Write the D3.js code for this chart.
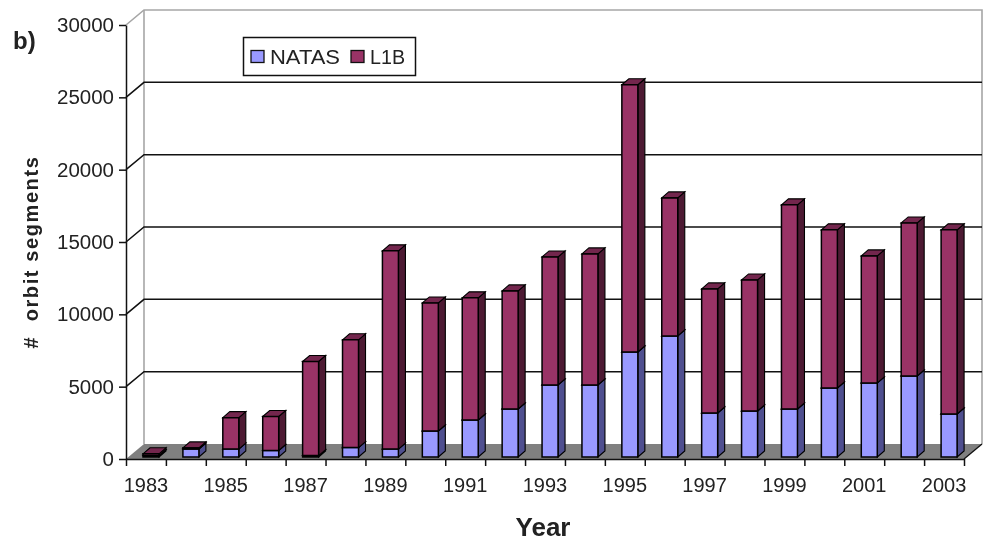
<!DOCTYPE html>
<html><head><meta charset="utf-8">
<script src="https://cdnjs.cloudflare.com/ajax/libs/d3/7.8.5/d3.min.js"></script>
<style>html,body{margin:0;background:#fff}svg{display:block;filter:blur(0.35px)}text{font-family:"Liberation Sans",Arial,sans-serif;fill:#222}</style>
</head><body><svg id="c" width="987" height="547"></svg>
<script>
const years = d3.range(1983, 2004);
const natas = [100,550,550,450,100,650,550,1800,2560,3320,4980,4980,7260,8370,3040,3180,3320,4770,5120,5600,2970];
const l1b = [120,80,2170,2350,6500,7450,13700,8850,8440,8160,8850,9060,18470,9540,8580,9060,14110,10930,8780,10580,12730];
const yTicks = [0,5000,10000,15000,20000,25000,30000];
const xLabels = [1983,1985,1987,1989,1991,1993,1995,1997,1999,2001,2003];
const seriesNames = ["NATAS","L1B"];
const colors = {NATAS:{front:"#9999ff",side:"#4f4f8f",top:"#7a7acc"},L1B:{front:"#993366",side:"#4d1a33",top:"#73264d"}};

const svg = d3.select("#c");
const x0=126,x1=964,y0=459,y1=25,dx=18,dy=-15;
const y = d3.scaleLinear().domain([0,30000]).range([y0,y1]);
const x = d3.scaleBand().domain(years).range([x0,x1]).paddingInner(0).paddingOuter(0);
const poly=(pts,fill,stroke,sw)=>svg.append("polygon").attr("points",pts.map(p=>p.join(",")).join(" ")).attr("fill",fill).attr("stroke",stroke||"none").attr("stroke-width",sw||0);

// walls and floor
svg.append("path").attr("d",`M${x0},${y(30000)}L${x0+dx},${y(30000)+dy}H${x1+dx}V${y0+dy}`).attr("fill","none").attr("stroke","#a6a6a6").attr("stroke-width",1.6);
svg.append("line").attr("x1",x0+dx).attr("x2",x0+dx).attr("y1",y(30000)+dy).attr("y2",y0+dy).attr("stroke","#a6a6a6").attr("stroke-width",1.6);
poly([[x0,y0],[x0+dx,y0+dy],[x1+dx,y0+dy],[x1,y0]],"#808080");
yTicks.filter(t=>t>0&&t<30000).forEach(t=>{
  svg.append("path").attr("d",`M${x0},${y(t)}L${x0+dx},${y(t)+dy}H${x1+dx}`).attr("fill","none").attr("stroke","#111").attr("stroke-width",1.5);
});
svg.append("path").attr("d",`M${x1},${y0}L${x1+dx},${y0+dy}`).attr("stroke","#111").attr("stroke-width",1.3);

// bars
const bx=17,bw=16,bd=7,bdy=-6,by=-2;
years.forEach((yr,i)=>{
  let base=0;
  const left=x(yr)+bx;
  [natas[i],l1b[i]].forEach((v,s)=>{
    const c=colors[seriesNames[s]];
    const yb=y(base)+by, yt=y(base+v)+by;
    poly([[left+bw,yb],[left+bw+bd,yb+bdy],[left+bw+bd,yt+bdy],[left+bw,yt]],c.side,"#000",1.1);
    poly([[left,yt],[left+bd,yt+bdy],[left+bw+bd,yt+bdy],[left+bw,yt]],c.top,"#000",1.1);
    poly([[left,yb],[left+bw,yb],[left+bw,yt],[left,yt]],c.front,"#000",1.5);
    base+=v;
  });
});

// axes
const gy=svg.append("g").attr("transform",`translate(${x0},0)`).call(d3.axisLeft(y).tickValues(yTicks).tickSize(7).tickPadding(5).tickSizeOuter(0).tickFormat(d3.format("d")));
const xAxis=d3.axisBottom(d3.scalePoint().domain(d3.range(1983,2005)).range([x0,x1])).tickSize(7).tickSizeOuter(0).tickFormat("");
svg.append("g").attr("transform",`translate(0,${y0})`).call(xAxis);
svg.selectAll(".domain,.tick line").attr("stroke","#111").attr("stroke-width",1.5);
gy.selectAll("text").attr("font-size",20.5).attr("fill","#222");
xLabels.forEach(l=>{
  svg.append("text").attr("x",x(l)+x.bandwidth()/2).attr("y",492).attr("text-anchor","middle").attr("font-size",20).text(l);
});

// titles
svg.append("text").attr("x",543).attr("y",536).attr("text-anchor","middle").attr("font-size",26).attr("font-weight","bold").text("Year");
svg.append("text").attr("transform","translate(38,252) rotate(-90)").attr("text-anchor","middle").attr("font-size",20).attr("font-weight","bold").attr("letter-spacing",1.6).attr("xml:space","preserve").text("#  orbit segments");
svg.append("text").attr("x",13).attr("y",49).attr("font-size",24).attr("font-weight","bold").text("b)");

// legend
svg.append("rect").attr("x",243.5).attr("y",37.5).attr("width",172).attr("height",38).attr("fill","#fff").attr("stroke","#111").attr("stroke-width",1.5);
[[251,270,"NATAS",70],[351,370,"L1B",35]].forEach((e,i)=>{
  svg.append("rect").attr("x",e[0]).attr("y",50.5).attr("width",13).attr("height",12).attr("fill",colors[seriesNames[i]].front).attr("stroke","#111").attr("stroke-width",1.3);
  svg.append("text").attr("x",e[1]).attr("y",64).attr("font-size",20).attr("textLength",e[3]).attr("lengthAdjust","spacingAndGlyphs").text(e[2]);
});
</script></body></html>
